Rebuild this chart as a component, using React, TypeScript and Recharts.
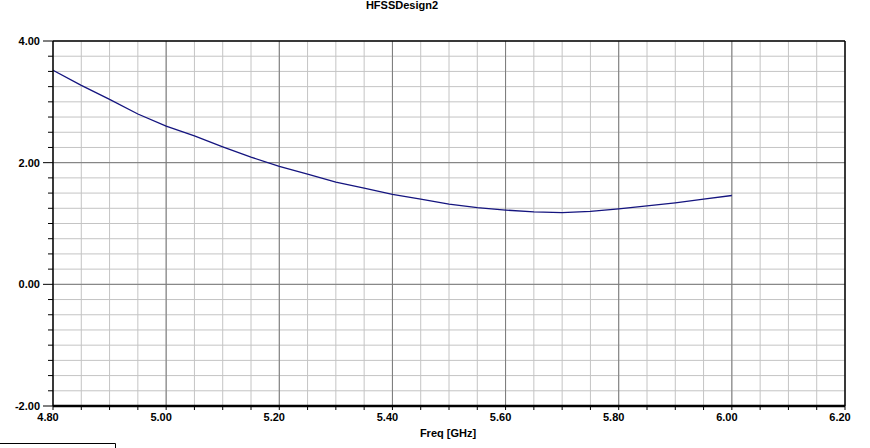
import React from "react";
import { LineChart, Line, XAxis, YAxis, CartesianGrid, ReferenceLine } from "recharts";

const freq = [4.8, 4.85, 4.9, 4.95, 5.0, 5.05, 5.1, 5.15, 5.2, 5.25, 5.3, 5.35, 5.4, 5.45, 5.5, 5.55, 5.6, 5.65, 5.7, 5.75, 5.8, 5.85, 5.9, 5.95, 6.0];
const values = [3.52, 3.27, 3.04, 2.8, 2.6, 2.44, 2.26, 2.09, 1.94, 1.81, 1.68, 1.58, 1.48, 1.4, 1.32, 1.26, 1.22, 1.19, 1.18, 1.2, 1.24, 1.29, 1.34, 1.4, 1.46];

const xTicks = [4.8, 4.85, 4.9, 4.95, 5.0, 5.05, 5.1, 5.15, 5.2, 5.25, 5.3, 5.35, 5.4, 5.45, 5.5, 5.55, 5.6, 5.65, 5.7, 5.75, 5.8, 5.85, 5.9, 5.95, 6.0, 6.05, 6.1, 6.15, 6.2];
const xMajor = [4.8, 5.0, 5.2, 5.4, 5.6, 5.8, 6.0, 6.2];
const yTicks = [-2, -1.75, -1.5, -1.25, -1, -0.75, -0.5, -0.25, 0, 0.25, 0.5, 0.75, 1, 1.25, 1.5, 1.75, 2, 2.25, 2.5, 2.75, 3, 3.25, 3.5, 3.75, 4];
const yMajor = [-2, 0, 2, 4];

const title = "HFSSDesign2";
const xLabel = "Freq [GHz]";

const data = freq.map((f, i) => ({ f, v: values[i] }));

const FONT = "'Liberation Sans', Arial, sans-serif";

const isMajor = (v: number, list: number[]) => list.some((m) => Math.abs(m - v) < 1e-6);

const XTick = (props: any) => {
  const { x, y, payload } = props;
  const v = payload.value as number;
  return (
    <g>
      <line x1={x} x2={x} y1={y} y2={y + 4} stroke="#000" strokeWidth={1} />
      {isMajor(v, xMajor) && (
        <text x={x - 5} y={y + 15} textAnchor="middle" fontFamily={FONT} fontWeight="bold" fontSize={11} fill="#000">
          {v.toFixed(2)}
        </text>
      )}
    </g>
  );
};

const YTick = (props: any) => {
  const { x, y, payload } = props;
  const v = payload.value as number;
  const major = isMajor(v, yMajor);
  return (
    <g>
      <line x1={x - (major ? 10 : 5)} x2={x} y1={y} y2={y} stroke="#000" strokeWidth={1} />
      {major && (
        <text x={x - 13} y={y + 4} textAnchor="end" fontFamily={FONT} fontWeight="bold" fontSize={11} fill="#000">
          {v.toFixed(2)}
        </text>
      )}
    </g>
  );
};

export default function App() {
  return (
    <div style={{ position: "absolute", left: 0, top: 0, width: 870, height: 448, background: "#fff", overflow: "hidden" }}>
      <LineChart width={870} height={448} data={data} margin={{ top: 41, right: 25, bottom: 0, left: 0 }}>
        <CartesianGrid stroke="#c4c4c4" strokeWidth={1} />
        <XAxis
          dataKey="f"
          type="number"
          domain={[4.8, 6.2]}
          ticks={xTicks}
          interval={0}
          tickSize={0}
          tickMargin={0}
          tickLine={false}
          tick={<XTick />}
          height={42}
          axisLine={{ stroke: "#000", strokeWidth: 2.5 }}
        />
        <YAxis
          type="number"
          domain={[-2, 4]}
          ticks={yTicks}
          interval={0}
          tickSize={0}
          tickMargin={0}
          tickLine={false}
          tick={<YTick />}
          width={53}
          axisLine={{ stroke: "#000", strokeWidth: 1.5 }}
        />
        {xMajor.slice(1, -1).map((m) => (
          <ReferenceLine key={"xm" + m} x={m} stroke="#7a7a7a" strokeWidth={1} />
        ))}
        {yMajor.slice(1, -1).map((m) => (
          <ReferenceLine key={"ym" + m} y={m} stroke="#7a7a7a" strokeWidth={1} />
        ))}
        <ReferenceLine y={4} stroke="#000" strokeWidth={1.5} />
        <ReferenceLine x={6.2} stroke="#000" strokeWidth={1.5} />
        <Line dataKey="v" type="linear" stroke="#14147f" strokeWidth={1.3} dot={false} isAnimationActive={false} />
      </LineChart>
      <svg width={870} height={448} style={{ position: "absolute", left: 0, top: 0, pointerEvents: "none" }}>
        <text x={402} y={9} textAnchor="middle" fontFamily={FONT} fontWeight="bold" fontSize={11} fill="#000">
          {title}
        </text>
        <text x={448} y={437} textAnchor="middle" fontFamily={FONT} fontWeight="bold" fontSize={11} fill="#000">
          {xLabel}
        </text>
        <path d="M0 443.5 H115.5 V448" fill="none" stroke="#000" strokeWidth={1} />
      </svg>
    </div>
  );
}
